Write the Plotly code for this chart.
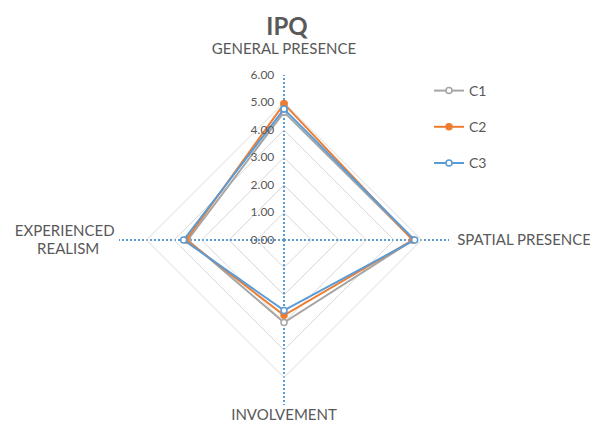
import plotly.graph_objects as go

categories = ["GENERAL PRESENCE<br>\u00a0", "\u00a0\u00a0SPATIAL PRESENCE", "INVOLVEMENT",
              "EXPERIENCED\u00a0<br>REALISM\u00a0\u00a0\u00a0\u00a0\u00a0"]
c1 = [4.65, 4.70, 3.00, 3.50]
c2 = [4.95, 4.68, 2.74, 3.56]
c3 = [4.76, 4.75, 2.56, 3.65]
series_names = ["C1", "C2", "C3"]
tick_vals = [0, 1, 2, 3, 4, 5, 6]

colors = ["#A5A5A5", "#ED7D31", "#5B9BD5"]
fills = ["white", "#ED7D31", "white"]

fig = go.Figure()
for i, (name, vals) in enumerate(zip(series_names, [c1, c2, c3])):
    fig.add_trace(go.Scatterpolar(
        r=vals + vals[:1],
        theta=categories + categories[:1],
        mode="lines+markers",
        name=name,
        legendgroup=name,
        line=dict(color=colors[i], width=2),
        marker=dict(symbol="circle", size=6, color=fills[i],
                    line=dict(color=colors[i], width=1.5)),
    ))

cx, cy, R = 276, 232, 165
fig.update_layout(
    width=598, height=427,
    margin=dict(l=0, r=0, t=0, b=0),
    paper_bgcolor="white",
    font=dict(family="Lato, Open Sans, sans-serif", color="#595959"),
    title=dict(text="<b>IPQ</b>", x=279/598, xanchor="center", y=1-19/427, yanchor="middle",
               font=dict(size=24, color="#595959")),
    polar=dict(
        domain=dict(x=[(cx-R)/598, (cx+R)/598], y=[(427-cy-R)/427, (427-cy+R)/427]),
        bgcolor="white",
        gridshape="linear",
        angularaxis=dict(
            rotation=90, direction="clockwise",
            showline=False,
            gridcolor="#5B9BD5", griddash="2px,2px", gridwidth=2,
            ticks="",
            tickfont=dict(size=14, color="#595959"),
            tickprefix="<span style='font-size:15px'>",
            ticksuffix="</span>",
        ),
        radialaxis=dict(
            range=[0, 6], tickvals=tick_vals, tickformat=".2f",
            angle=90, tickangle=90,
            showline=False, ticks="outside", ticklen=5, tickcolor="rgba(0,0,0,0)",
            gridcolor="#D9D9D9", gridwidth=1,
            tickfont=dict(size=12, color="#595959"),
            side="counterclockwise",
        ),
    ),
    legend=dict(x=421/598, xanchor="left", y=1-67/427, yanchor="top",
                font=dict(size=14, color="#595959"), tracegroupgap=15,
                bgcolor="rgba(0,0,0,0)"),
)

fig.write_html("out.html")
